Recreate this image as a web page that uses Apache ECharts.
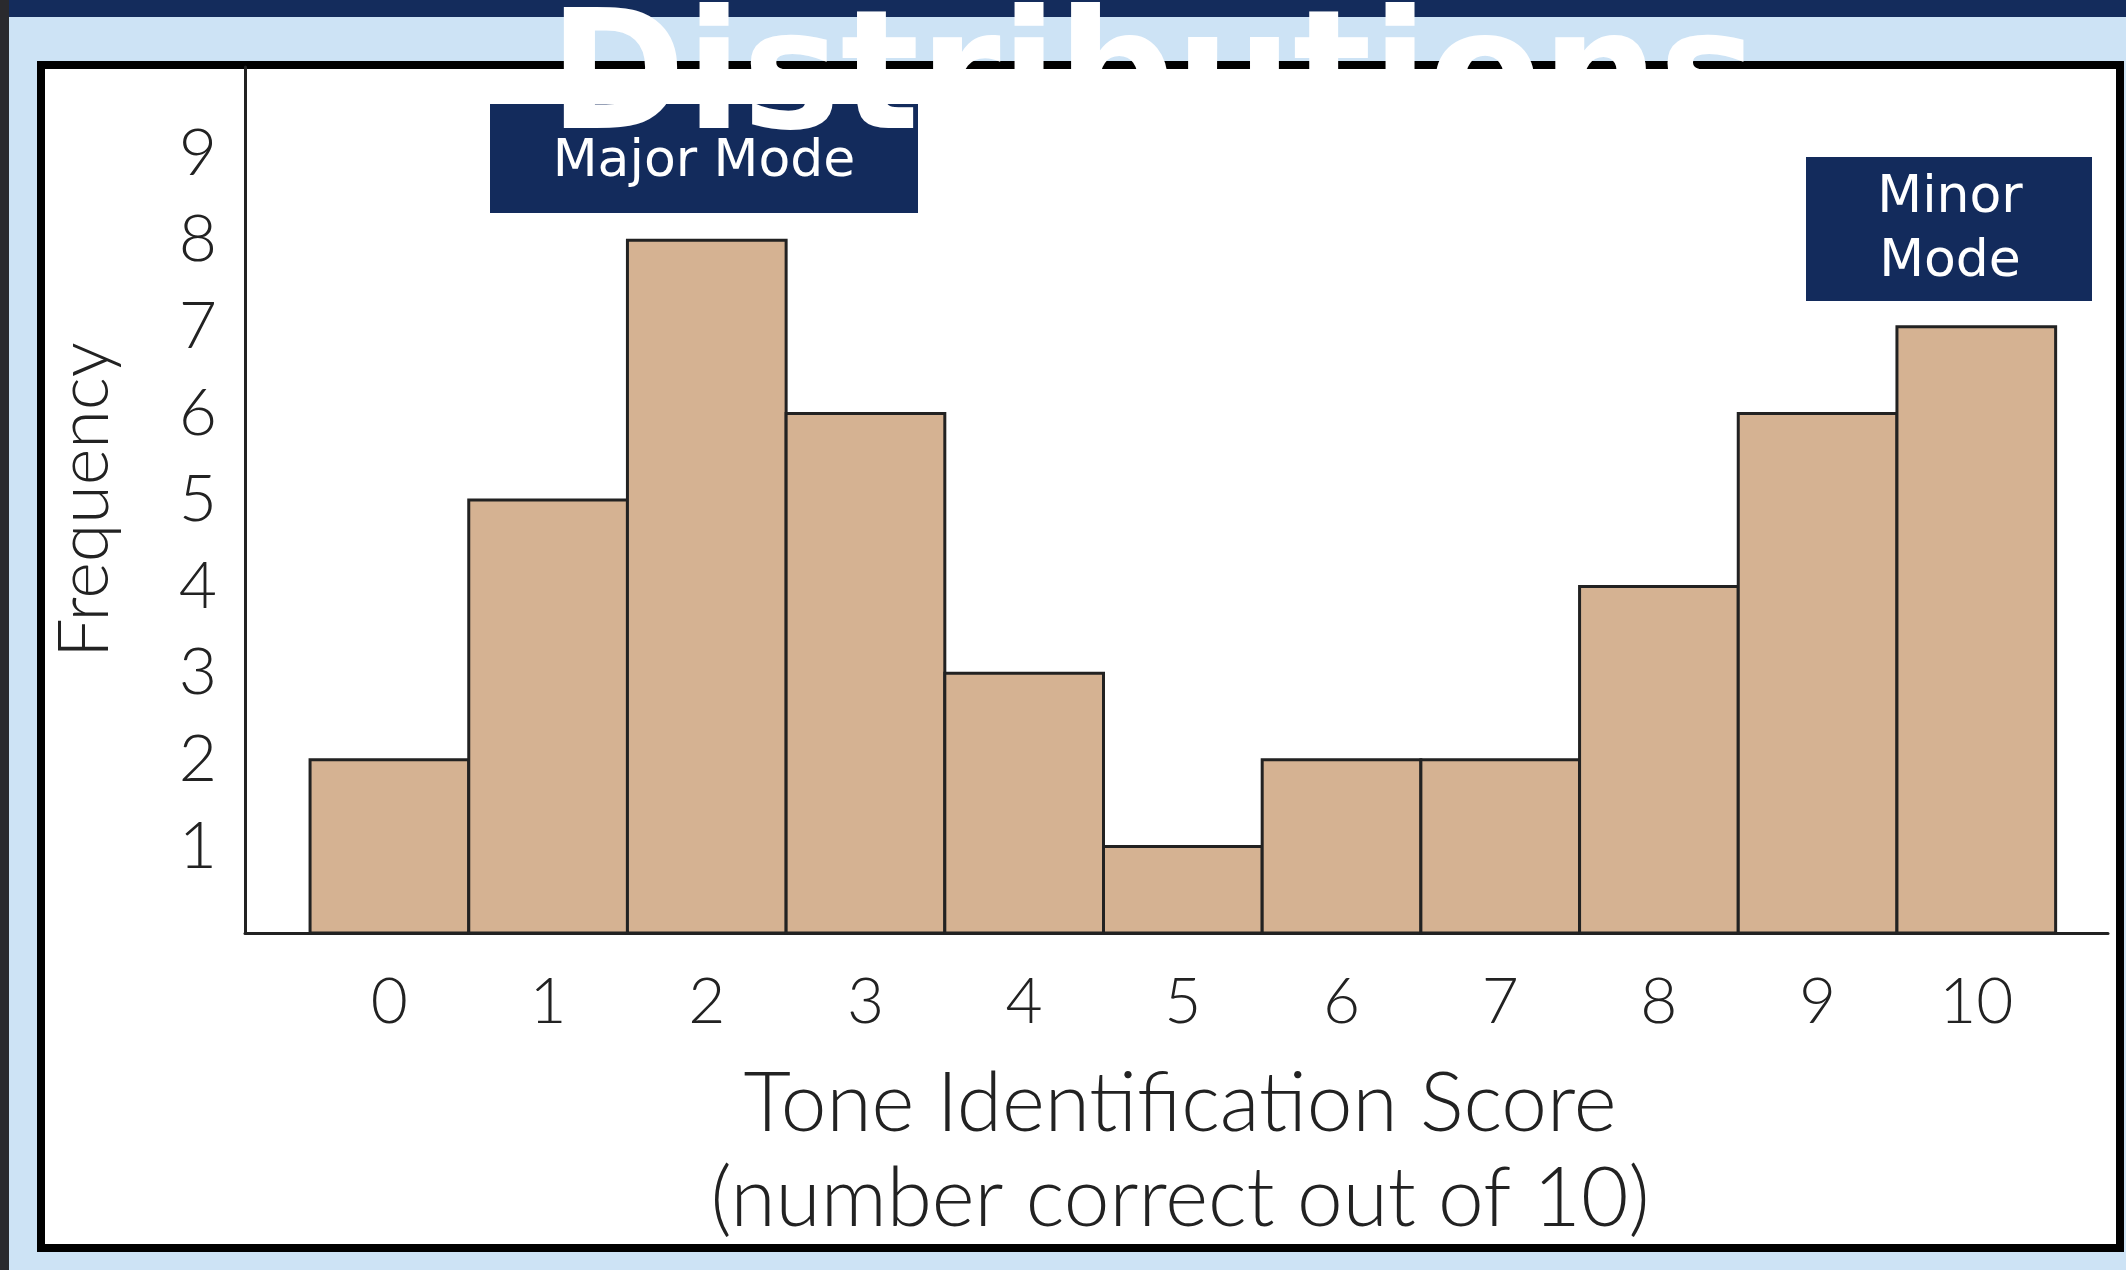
<!DOCTYPE html>
<html><head><meta charset="utf-8">
<script src="https://cdn.jsdelivr.net/npm/echarts@6/dist/echarts.min.js"></script>
<style>
html,body{margin:0;padding:0;background:#cde3f5;}
#chart{width:2126px;height:1270px;}
</style></head>
<body><div id="chart"></div>
<script>
const scores = [0, 1, 2, 3, 4, 5, 6, 7, 8, 9, 10];
const frequency = [2, 5, 8, 6, 3, 1, 2, 2, 4, 6, 7];
const yTicks = [1, 2, 3, 4, 5, 6, 7, 8, 9];

const chart = echarts.init(document.getElementById('chart'));
const navy = '#132b5c';
const labelFont = { fontFamily: 'Lato', fontWeight: 300, color: '#222' };

chart.setOption({
  backgroundColor: '#cde3f5',
  animation: false,
  grid: { left: 245, right: 18, top: 67, bottom: 337 },
  xAxis: {
    type: 'value', min: -0.91, max: 10.83,
    axisLine: { show: true, onZero: false, lineStyle: { color: '#222', width: 3 } },
    axisTick: { show: false }, splitLine: { show: false },
    axisLabel: Object.assign({ fontSize: 64, margin: 37, customValues: scores }, labelFont)
  },
  yAxis: {
    type: 'value', min: 0, max: 10, interval: 1,
    axisLine: { show: true, onZero: false, lineStyle: { color: '#222', width: 3 } },
    axisTick: { show: false }, splitLine: { show: false },
    axisLabel: Object.assign({ fontSize: 66, margin: 28, customValues: yTicks }, labelFont),
    name: 'Frequency', nameLocation: 'middle', nameGap: 125, nameRotate: 90,
    nameTextStyle: Object.assign({ fontSize: 70 }, labelFont)
  },
  series: [{
    type: 'custom',
    data: scores.map((s, i) => [s, frequency[i]]),
    encode: { x: 0, y: 1 },
    renderItem: (params, api) => {
      const x = api.value(0), y = api.value(1);
      const p0 = api.coord([x - 0.5, 0]);
      const p1 = api.coord([x + 0.5, y]);
      return {
        type: 'rect',
        shape: { x: p0[0], y: p1[1], width: p1[0] - p0[0], height: p0[1] - p1[1] },
        style: { fill: '#d5b292', stroke: '#222', lineWidth: 3 }
      };
    }
  }],
  graphic: [
    { type: 'rect', left: 0, top: 0, shape: { width: 2126, height: 17 }, style: { fill: '#142c5c' }, z: 0 },
    { type: 'rect', left: 0, top: 0, shape: { width: 9, height: 1270 }, style: { fill: '#2a2a2e' }, z: 0 },
    { type: 'rect', shape: { x: 41, y: 65, width: 2079, height: 1183 },
      style: { fill: '#fff', stroke: '#000', lineWidth: 8 }, z: -10 },
    { type: 'text', x: 1180, y: 1105, z: 10,
      style: { text: 'Tone Identification Score', fontFamily: 'Lato', fontWeight: 300, fontSize: 82, fill: '#222', align: 'center', verticalAlign: 'middle' } },
    { type: 'text', x: 1180, y: 1200, z: 10,
      style: { text: '(number correct out of 10)', fontFamily: 'Lato', fontWeight: 300, fontSize: 82, fill: '#222', align: 'center', verticalAlign: 'middle' } },
    { type: 'rect', shape: { x: 490, y: 104, width: 428, height: 109 }, style: { fill: navy }, z: 20 },
    { type: 'text', x: 704, y: 162, z: 21,
      style: { text: 'Major Mode', fontFamily: 'DejaVu Sans', fontSize: 52, fill: '#fff', align: 'center', verticalAlign: 'middle' } },
    { type: 'rect', shape: { x: 1806, y: 157, width: 286, height: 144 }, style: { fill: navy }, z: 20 },
    { type: 'text', x: 1950, y: 230, z: 21,
      style: { text: 'Minor\nMode', fontFamily: 'DejaVu Sans', fontSize: 52, lineHeight: 64, fill: '#fff', align: 'center', verticalAlign: 'middle' } },
    { type: 'text', x: 1153, y: 85, z: 30,
      style: { text: 'Distributions', fontFamily: 'DejaVu Sans', fontWeight: 'bold', fontSize: 165, fill: '#fff', align: 'center', verticalAlign: 'middle' } }
  ]
});
</script></body></html>
